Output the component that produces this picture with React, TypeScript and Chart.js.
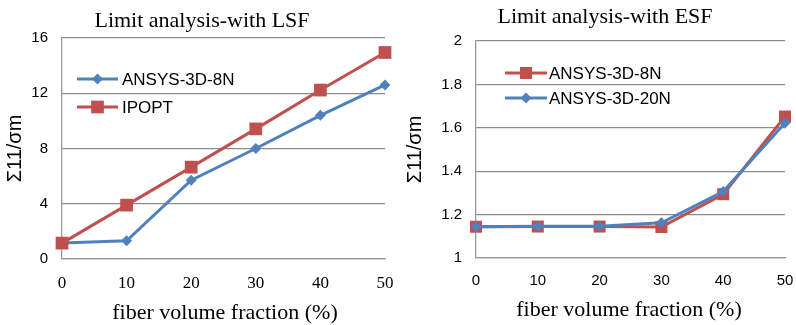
import React, { useEffect, useRef } from 'react';
import { Chart, registerables } from 'chart.js';

Chart.register(...registerables);

// ---------- data ----------
const categories = ['0', '10', '20', '30', '40', '50'];

const lsfAnsys8N = [1.15, 1.32, 5.7, 8.0, 10.4, 12.6];
const lsfIpopt = [1.15, 3.9, 6.65, 9.42, 12.23, 14.95];

const esfAnsys8N = [1.144, 1.145, 1.145, 1.143, 1.294, 1.652];
const esfAnsys20N = [1.144, 1.146, 1.146, 1.162, 1.306, 1.622];

const lsfYTicks = [0, 4, 8, 12, 16];
const esfYTicks = [1, 1.2, 1.4, 1.6, 1.8, 2];

const lsfTitle = 'Limit analysis-with LSF';
const esfTitle = 'Limit analysis-with ESF';
const xTitle = 'fiber volume fraction (%)';
const yTitle = 'Σ11/σm';

const BLUE = '#4F81BD';
const RED = '#C0504D';
const GRID = '#8c8c8c';
const AXIS = '#9a9a9a';
const SANS = '"Liberation Sans", Arial, sans-serif';
const SERIF = '"Liberation Serif", "Times New Roman", serif';

type LegendItem = { label: string; color: string; marker: 'square' | 'diamond'; size: number; y: number };

type PanelSpec = {
  width: number;
  left: number;
  area: { left: number; right: number; top: number; bottom: number };
  title: string;
  titleX: number;
  titleY: number;
  xTitleX: number;
  xTitleY: number;
  yTicks: number[];
  yMin: number;
  yMax: number;
  xTickFont: string;
  xTickSize: number;
  datasets: any[];
  legend: { x1: number; x2: number; textX: number; items: LegendItem[] };
};

function drawMarker(ctx: CanvasRenderingContext2D, kind: string, x: number, y: number, r: number, color: string) {
  ctx.save();
  ctx.fillStyle = color;
  ctx.beginPath();
  if (kind === 'square') {
    const s = Math.SQRT1_2 * r;
    ctx.rect(x - s, y - s, 2 * s, 2 * s);
  } else {
    ctx.moveTo(x - r, y);
    ctx.lineTo(x, y - r);
    ctx.lineTo(x + r, y);
    ctx.lineTo(x, y + r);
    ctx.closePath();
  }
  ctx.fill();
  ctx.restore();
}

function Panel({ spec }: { spec: PanelSpec }) {
  const ref = useRef<HTMLCanvasElement | null>(null);
  useEffect(() => {
    if (!ref.current) return;
    const H = 325;
    const decor = {
      id: 'decor',
      afterDraw(chart: any) {
        const ctx: CanvasRenderingContext2D = chart.ctx;
        const ca = chart.chartArea;
        ctx.save();
        ctx.fillStyle = '#000';
        // title
        ctx.font = `22px ${SERIF}`;
        ctx.textAlign = 'center';
        ctx.textBaseline = 'alphabetic';
        ctx.fillText(spec.title, spec.titleX, spec.titleY);
        // x title
        ctx.fillText(xTitle, spec.xTitleX, spec.xTitleY);
        // y title
        ctx.save();
        ctx.translate(15, (ca.top + ca.bottom) / 2);
        ctx.rotate(-Math.PI / 2);
        ctx.font = `20px ${SANS}`;
        ctx.textBaseline = 'middle';
        ctx.fillText(yTitle, 0, 0);
        ctx.restore();
        // legend
        const lg = spec.legend;
        for (const it of lg.items) {
          ctx.save();
          ctx.strokeStyle = it.color;
          ctx.lineWidth = 3;
          ctx.beginPath();
          ctx.moveTo(lg.x1, it.y);
          ctx.lineTo(lg.x2, it.y);
          ctx.stroke();
          ctx.restore();
          drawMarker(ctx, it.marker, (lg.x1 + lg.x2) / 2, it.y, it.size, it.color);
          ctx.font = `17px ${SANS}`;
          ctx.textAlign = 'left';
          ctx.textBaseline = 'middle';
          ctx.fillStyle = '#000';
          ctx.fillText(it.label, lg.textX, it.y + 1);
        }
        ctx.restore();
      },
    };
    const chart = new Chart(ref.current, {
      type: 'line',
      data: { labels: categories, datasets: spec.datasets },
      options: {
        responsive: false,
        animation: false,
        layout: {
          padding: {
            left: 0,
            top: spec.area.top,
            right: spec.width - spec.area.right,
            bottom: 0,
          },
        },
        plugins: { legend: { display: false }, title: { display: false }, tooltip: { enabled: false } },
        scales: {
          x: {
            type: 'category',
            offset: false,
            grid: { display: false, drawTicks: false },
            border: { display: true, color: AXIS, width: 1.3 },
            ticks: {
              color: '#000',
              padding: 14,
              maxRotation: 0,
              font: { family: spec.xTickFont, size: spec.xTickSize },
            },
            afterFit: (s: any) => {
              s.height = H - spec.area.bottom;
              s.paddingLeft = 0;
              s.paddingRight = 0;
            },
          },
          y: {
            type: 'linear',
            min: spec.yMin,
            max: spec.yMax,
            afterBuildTicks: (s: any) => {
              s.ticks = spec.yTicks.map((v) => ({ value: v }));
            },
            grid: { color: GRID, lineWidth: 1.3, drawTicks: false },
            border: { display: true, color: AXIS, width: 1.3 },
            ticks: {
              color: '#000',
              padding: 14,
              font: { family: SANS, size: 15 },
              callback: (v: any) => String(Math.round(Number(v) * 10) / 10),
            },
            afterFit: (s: any) => {
              s.width = spec.area.left;
              s.paddingTop = 0;
              s.paddingBottom = 0;
            },
          },
        },
      },
      plugins: [decor],
    } as any);
    return () => chart.destroy();
  }, [spec]);
  return (
    <div style={{ position: 'absolute', left: spec.left, top: 0, width: spec.width, height: 325 }}>
      <canvas ref={ref} width={spec.width} height={325} style={{ display: 'block' }} />
    </div>
  );
}

const lineDs = (label: string, data: number[], color: string, style: string, radius: number, order: number) => ({
  label,
  data,
  borderColor: color,
  backgroundColor: color,
  borderWidth: 3,
  pointStyle: style,
  pointRadius: radius,
  pointBorderWidth: 0,
  pointBackgroundColor: color,
  pointBorderColor: color,
  tension: 0,
  clip: false,
  order,
});

const leftSpec: PanelSpec = {
  width: 400,
  left: 0,
  area: { left: 62, right: 385, top: 38, bottom: 259 },
  title: lsfTitle,
  titleX: 202,
  titleY: 27,
  xTitleX: 225,
  xTitleY: 319,
  yTicks: lsfYTicks,
  yMin: 0,
  yMax: 16,
  xTickFont: SERIF,
  xTickSize: 17,
  datasets: [
    lineDs('ANSYS-3D-8N', lsfAnsys8N, BLUE, 'rectRot', 5.5, 1),
    lineDs('IPOPT', lsfIpopt, RED, 'rect', 9, 0),
  ],
  legend: {
    x1: 77,
    x2: 118,
    textX: 122,
    items: [
      { label: 'ANSYS-3D-8N', color: BLUE, marker: 'diamond', size: 5.5, y: 79 },
      { label: 'IPOPT', color: RED, marker: 'square', size: 9, y: 107 },
    ],
  },
};

const rightSpec: PanelSpec = {
  width: 396,
  left: 400,
  area: { left: 76, right: 385, top: 41, bottom: 258 },
  title: esfTitle,
  titleX: 205,
  titleY: 23,
  xTitleX: 229,
  xTitleY: 316,
  yTicks: esfYTicks,
  yMin: 1,
  yMax: 2,
  xTickFont: SANS,
  xTickSize: 15,
  datasets: [
    lineDs('ANSYS-3D-8N', esfAnsys8N, RED, 'rect', 8.5, 1),
    lineDs('ANSYS-3D-20N', esfAnsys20N, BLUE, 'rectRot', 5.5, 0),
  ],
  legend: {
    x1: 105,
    x2: 147,
    textX: 149,
    items: [
      { label: 'ANSYS-3D-8N', color: RED, marker: 'square', size: 8.5, y: 73 },
      { label: 'ANSYS-3D-20N', color: BLUE, marker: 'diamond', size: 5.5, y: 98 },
    ],
  },
};

export default function App() {
  return (
    <div style={{ position: 'absolute', left: 0, top: 0, width: 796, height: 325, background: '#fff' }}>
      <Panel spec={leftSpec} />
      <Panel spec={rightSpec} />
    </div>
  );
}
